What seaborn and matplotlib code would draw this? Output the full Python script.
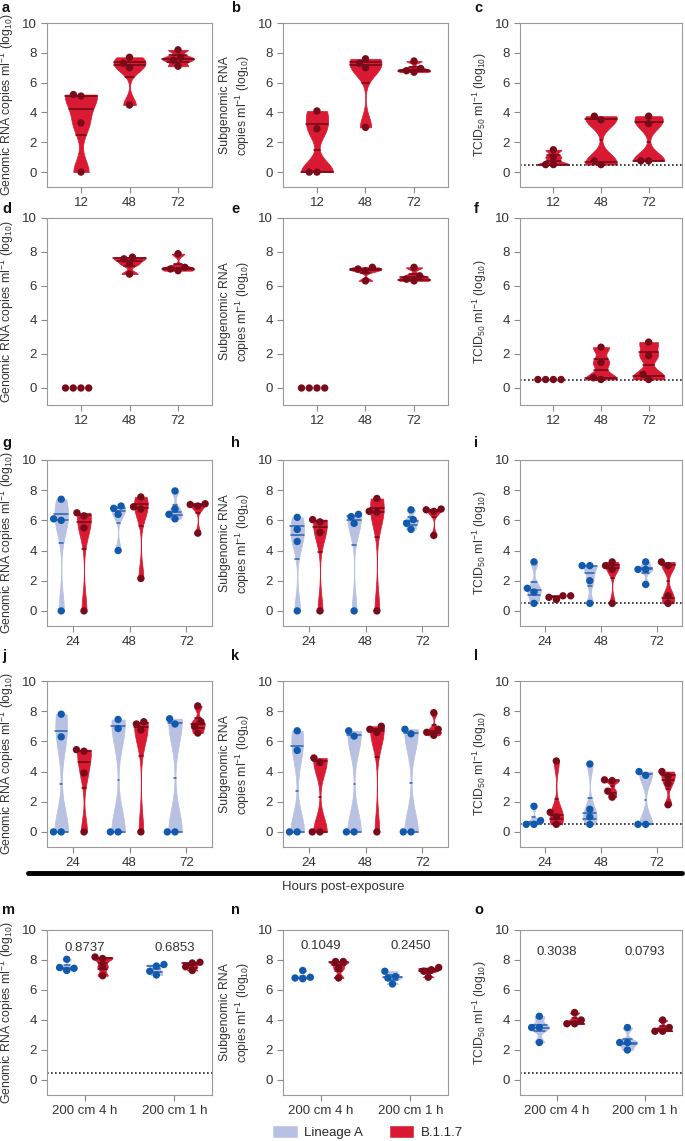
import numpy as np
import pandas as pd
import matplotlib
matplotlib.use("Agg")
import matplotlib.pyplot as plt
import seaborn as sns
from matplotlib.lines import Line2D
from matplotlib.patches import Patch

# -----------------------
# Data (log10 values)
# -----------------------

hours_a = ["12", "48", "72"]
hours_g = ["24", "48", "72"]
distances = ["200 cm 4 h", "200 cm 1 h"]
variants = ["Lineage A", "B.1.1.7"]

# rows a-c and d-f: B.1.1.7 only
a_vals = [[5.1, 5.2, 3.3, 0.0], [7.3, 7.7, 7.0, 4.5], [8.2, 7.7, 7.5, 7.1]]
b_vals = [[4.1, 2.9, 0.0, 0.0], [7.3, 7.6, 7.0, 3.0], [6.7, 7.45, 6.95, 6.8]]
c_vals = [[1.5, 1.0, 0.5, 0.5], [3.5, 3.75, 0.5, 0.75], [3.75, 3.25, 0.75, 0.75]]
d_vals = [[0.0, 0.0, 0.0, 0.0], [7.7, 7.6, 7.3, 6.7], [7.9, 7.1, 7.0, 6.9]]
e_vals = [[0.0, 0.0, 0.0, 0.0], [7.1, 7.0, 6.9, 6.3], [7.1, 6.6, 6.4, 6.3]]
f_vals = [[0.5, 0.5, 0.5, 0.5], [2.4, 1.5, 0.6, 0.5], [2.7, 1.9, 0.8, 0.5]]

# rows g-i and j-l: Lineage A vs B.1.1.7
g_lin = [[7.4, 6.1, 6.0, 0.0], [6.8, 6.95, 6.4, 4.0], [7.95, 6.75, 6.1, 6.4]]
g_b117 = [[6.3, 6.5, 5.5, 0.0], [7.55, 6.9, 6.75, 2.15], [7.1, 6.95, 7.05, 5.15]]
h_lin = [[6.2, 5.4, 4.6, 0.0], [6.25, 6.4, 5.8, 0.0], [6.7, 6.05, 5.8, 5.4]]
h_b117 = [[5.9, 6.05, 5.2, 0.0], [7.45, 6.6, 6.55, 0.0], [6.75, 6.6, 6.7, 5.0]]
i_lin = [[3.25, 1.5, 1.25, 0.5], [3.0, 3.0, 2.0, 0.5], [3.25, 2.75, 2.75, 1.75]]
i_b117 = [[0.75, 1.0, 1.0, 0.9], [3.25, 3.0, 2.75, 0.5], [3.0, 3.25, 1.0, 0.5]]

j_lin = [[7.8, 6.3, 0.0, 0.0], [7.45, 6.85, 0.0, 0.0], [7.15, 7.5, 0.0, 0.0]]
j_b117 = [[5.35, 5.45, 3.9, 0.0], [7.15, 7.3, 6.75, 0.0], [8.35, 7.3, 7.0, 6.55]]
k_lin = [[6.7, 5.4, 0.0, 0.0], [6.35, 6.7, 0.0, 0.0], [6.5, 6.8, 0.0, 0.0]]
k_b117 = [[4.6, 4.9, 0.0, 0.0], [7.0, 6.6, 6.8, 0.0], [7.9, 6.4, 6.8, 6.6]]
l_lin = [[1.7, 0.75, 0.5, 0.5], [4.5, 1.5, 1.0, 0.5], [3.75, 4.0, 0.5, 0.5]]
l_b117 = [[4.7, 1.3, 1.0, 0.5], [3.45, 3.4, 2.7, 2.3], [4.0, 3.7, 3.2, 1.8]]

# rows m-o: distance experiments
m_lin = [[8.05, 7.5, 7.45, 7.3], [7.6, 7.7, 7.25, 7.0]]
m_b117 = [[8.1, 8.2, 7.55, 6.95], [7.85, 7.8, 7.55, 7.3]]
n_lin = [[7.3, 6.85, 6.8, 6.75], [7.25, 6.9, 6.8, 6.4]]
n_b117 = [[7.9, 7.9, 7.45, 6.8], [7.5, 7.35, 7.25, 6.85]]
o_lin = [[4.25, 3.5, 3.5, 2.5], [3.5, 2.5, 2.5, 2.0]]
o_b117 = [[4.5, 4.0, 3.75, 3.75], [4.0, 3.5, 3.25, 3.25]]

m_pvals = ["0.8737", "0.6853"]
n_pvals = ["0.1049", "0.2450"]
o_pvals = ["0.3038", "0.0793"]

# -----------------------
# Style
# -----------------------

sns.set_style("ticks")
plt.rcParams["font.family"] = ["Liberation Sans", "DejaVu Sans"]
plt.rcParams["mathtext.default"] = "regular"

violin_colors = {"Lineage A": "#b9c1e2", "B.1.1.7": "#da1a32"}
line_colors = {"Lineage A": "#2a62b0", "B.1.1.7": "#6a0a16"}
point_colors = {"Lineage A": "#1159ad", "B.1.1.7": "#780a19"}

gen_label = "Genomic RNA copies ml$^{-1}$ (log$_{10}$)"
sub_label = "Subgenomic RNA\ncopies ml$^{-1}$ (log$_{10}$)"
tcid_label = "TCID$_{50}$ ml$^{-1}$ (log$_{10}$)"

W, H = 685, 1141
cols = [(47, 212), (283, 448), (520, 682)]
rows = [(23, 187), (218, 405), (460, 626), (681, 847), (930, 1095)]
letter_x = [2, 231, 474]
letter_y = [8, 209, 443, 656, 910]


def long_df(groups, labels, variant):
    recs = []
    for lab, vals in zip(labels, groups):
        for v in vals:
            recs.append((lab, variant, v))
    return pd.DataFrame(recs, columns=["x", "variant", "y"])


def draw(ax, frames, order, hue_order, width, gap):
    for df in frames:
        var = df["variant"].iloc[0]
        # groups with a single value get no violin, only points
        keep = df.groupby("x")["y"].transform("nunique") > 1
        sns.violinplot(
            data=df[keep], x="x", y="y", hue="variant",
            order=order, hue_order=hue_order,
            palette=violin_colors, saturation=1,
            cut=0, bw_adjust=0.45, density_norm="width",
            width=width, gap=gap, dodge=len(hue_order) > 1,
            inner="quart",
            inner_kws={"color": line_colors[var], "linewidth": 1.1,
                       "dashes": (None, None)},
            linewidth=0.5, linecolor=violin_colors[var],
            legend=False, ax=ax,
        )
        sns.swarmplot(
            data=df, x="x", y="y", hue="variant",
            order=order, hue_order=hue_order,
            palette=point_colors, size=5.3, dodge=len(hue_order) > 1,
            legend=False, zorder=4, ax=ax,
        )


def style_axis(ax, ylabel, xlim, lod):
    ax.set_ylim(-1, 10)
    ax.set_yticks(range(0, 11, 2))
    ax.set_xlim(*xlim)
    ax.set_xlabel("")
    ax.set_ylabel(ylabel, fontsize=8.8, color="#333333", linespacing=1.25)
    for sp in ax.spines.values():
        sp.set_visible(True)
        sp.set_color("#9a9a9a")
        sp.set_linewidth(0.8)
    ax.tick_params(direction="out", length=4, width=0.8, color="#8a8a8a",
                   labelsize=9.5, labelcolor="#333333")
    if lod:
        ax.axhline(0.5, color="#222222", linestyle=(0, (1, 1.4)),
                   linewidth=1.2, zorder=1.5)


fig = plt.figure(figsize=(W / 100, H / 100), dpi=100)


def add_ax(r, c):
    x0, x1 = cols[c]
    y0, y1 = rows[r]
    return fig.add_axes([x0 / W, 1 - y1 / H, (x1 - x0) / W, (y1 - y0) / H])


panels = [
    # row, col, letter, frames, order, ylabel, lod
    (0, 0, "a", [long_df(a_vals, hours_a, "B.1.1.7")], hours_a, gen_label, False),
    (0, 1, "b", [long_df(b_vals, hours_a, "B.1.1.7")], hours_a, sub_label, False),
    (0, 2, "c", [long_df(c_vals, hours_a, "B.1.1.7")], hours_a, tcid_label, True),
    (1, 0, "d", [long_df(d_vals, hours_a, "B.1.1.7")], hours_a, gen_label, False),
    (1, 1, "e", [long_df(e_vals, hours_a, "B.1.1.7")], hours_a, sub_label, False),
    (1, 2, "f", [long_df(f_vals, hours_a, "B.1.1.7")], hours_a, tcid_label, True),
    (2, 0, "g", [long_df(g_lin, hours_g, "Lineage A"), long_df(g_b117, hours_g, "B.1.1.7")], hours_g, gen_label, False),
    (2, 1, "h", [long_df(h_lin, hours_g, "Lineage A"), long_df(h_b117, hours_g, "B.1.1.7")], hours_g, sub_label, False),
    (2, 2, "i", [long_df(i_lin, hours_g, "Lineage A"), long_df(i_b117, hours_g, "B.1.1.7")], hours_g, tcid_label, True),
    (3, 0, "j", [long_df(j_lin, hours_g, "Lineage A"), long_df(j_b117, hours_g, "B.1.1.7")], hours_g, gen_label, False),
    (3, 1, "k", [long_df(k_lin, hours_g, "Lineage A"), long_df(k_b117, hours_g, "B.1.1.7")], hours_g, sub_label, False),
    (3, 2, "l", [long_df(l_lin, hours_g, "Lineage A"), long_df(l_b117, hours_g, "B.1.1.7")], hours_g, tcid_label, True),
    (4, 0, "m", [long_df(m_lin, distances, "Lineage A"), long_df(m_b117, distances, "B.1.1.7")], distances, gen_label, True),
    (4, 1, "n", [long_df(n_lin, distances, "Lineage A"), long_df(n_b117, distances, "B.1.1.7")], distances, sub_label, False),
    (4, 2, "o", [long_df(o_lin, distances, "Lineage A"), long_df(o_b117, distances, "B.1.1.7")], distances, tcid_label, True),
]

pvals = {"m": (m_pvals, 8.8), "n": (n_pvals, 8.95), "o": (o_pvals, 8.55)}

for r, c, letter, frames, order, ylabel, lod in panels:
    ax = add_ax(r, c)
    if r < 2:
        hue_order, width, gap, xlim = ["B.1.1.7"], 0.66, 0, (-0.7, 2.7)
    elif r < 4:
        hue_order, width, gap, xlim = variants, 0.8, 0.4, (-0.45, 2.45)
    else:
        hue_order, width, gap, xlim = variants, 0.8, 0.45, (-0.42, 1.42)
    draw(ax, frames, order, hue_order, width, gap)
    style_axis(ax, ylabel, xlim, lod)
    if letter in pvals:
        labels, ypos = pvals[letter]
        for i, txt in enumerate(labels):
            ax.text(i, ypos, txt, ha="center", va="center", fontsize=9.5,
                    color="#333333")
    fig.text(letter_x[c] / W, 1 - letter_y[r] / H, letter, fontsize=10.5,
             fontweight="bold", ha="left", va="center", color="#111111")

# separator bar and shared x label for rows g-l
fig.add_artist(Line2D([28 / W, 682 / W], [1 - 873 / H, 1 - 873 / H],
                      color="black", linewidth=3.5))
fig.text(343 / W, 1 - 887 / H, "Hours post-exposure", ha="center",
         va="center", fontsize=9.5, color="#333333")

handles = [Patch(facecolor=violin_colors[v], label=v) for v in variants]
fig.legend(handles=handles, loc="upper center",
           bbox_to_anchor=(0.537, 1 - 1113 / H), ncol=2, frameon=False,
           handlelength=1.9, handleheight=1.15, columnspacing=2.0,
           handletextpad=0.5, fontsize=9.5)

fig.savefig("out.png", dpi=100)
